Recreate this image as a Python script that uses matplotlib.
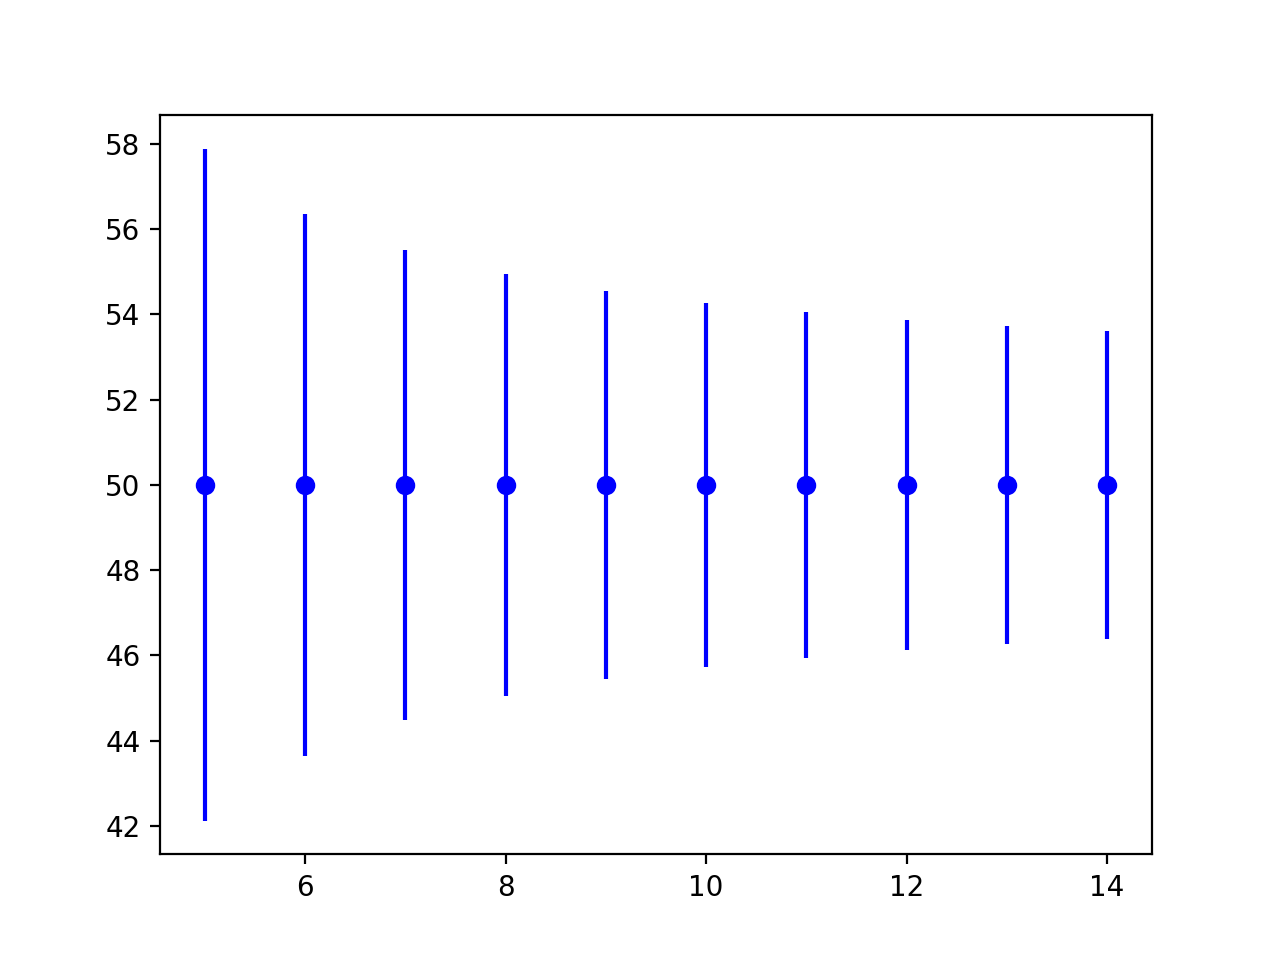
import matplotlib
matplotlib.use("Agg")
import matplotlib.pyplot as plt

x_values = [5, 6, 7, 8, 9, 10, 11, 12, 13, 14]
means = [50, 50, 50, 50, 50, 50, 50, 50, 50, 50]
errors = [7.88, 6.36, 5.51, 4.95, 4.55, 4.27, 4.06, 3.87, 3.73, 3.61]

fig, ax = plt.subplots(figsize=(6.4, 4.8), dpi=200)
ax.errorbar(x_values, means, yerr=errors, fmt='bo')
fig.savefig("out.png", dpi=200)
